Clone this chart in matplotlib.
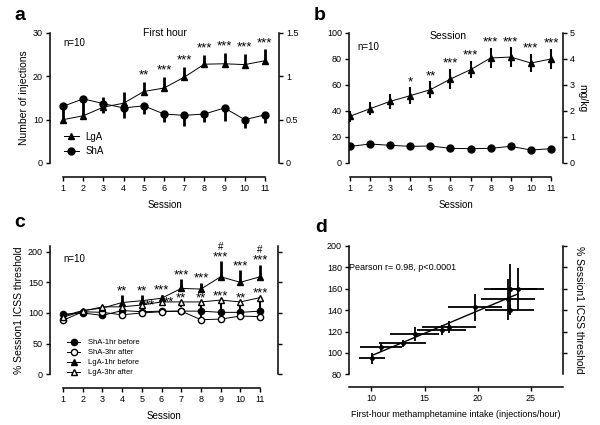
import numpy as np
import matplotlib
matplotlib.use("Agg")
import matplotlib.pyplot as plt
from matplotlib.lines import Line2D

plt.rcParams['font.family'] = ['Liberation Sans', 'DejaVu Sans']
plt.rcParams['font.size'] = 6.5
plt.rcParams['axes.linewidth'] = 1.1

sessions = np.arange(1, 12)

# panel a - first hour injections
lga_first = [10.0, 10.9, 12.9, 13.8, 16.5, 17.3, 19.8, 22.8, 22.9, 22.7, 23.6]
lga_first_err = [0.6, 0.6, 2.3, 2.7, 2.3, 2.5, 2.4, 2.2, 2.6, 2.5, 2.6]
sha_first = [13.1, 14.8, 13.7, 12.7, 13.2, 11.3, 11.0, 11.3, 12.7, 10.0, 11.1]
sha_first_err = [2.7, 3.9, 2.2, 2.3, 2.0, 1.9, 2.4, 1.8, 2.9, 1.9, 1.9]
stars_a = ['', '', '', '', '**', '***', '***', '***', '***', '***', '***']

# panel b - session injections
lga_sess = [35.9, 41.8, 47.4, 51.8, 56.4, 64.6, 71.8, 80.8, 81.5, 76.9, 80.0]
lga_sess_err = [4.0, 5.0, 5.5, 6.4, 6.4, 8.0, 6.7, 8.0, 7.5, 7.0, 8.0]
sha_sess = [12.8, 14.6, 13.6, 12.8, 13.1, 11.3, 11.0, 11.3, 12.8, 10.0, 11.0]
sha_sess_err = [1.5, 1.5, 1.2, 1.0, 1.0, 1.0, 1.0, 1.2, 2.5, 1.2, 1.0]
stars_b = ['', '', '', '*', '**', '***', '***', '***', '***', '***', '***']

# panel c - ICSS thresholds
sha_1hr = [98, 100, 96, 104, 102, 103, 103, 103, 101, 101, 103]
sha_1hr_err = [3, 3, 3, 4, 3, 3, 4, 4, 4, 4, 4]
sha_3hr = [88, 102, 101, 97, 100, 102, 103, 89, 90, 95, 94]
sha_3hr_err = [3, 3, 3, 3, 3, 3, 3, 10, 9, 4, 4]
lga_1hr = [95, 104, 108, 117, 120, 124, 140, 139, 159, 150, 159]
lga_1hr_err = [3, 3, 5, 12, 9, 6, 15, 10, 25, 20, 20]
lga_3hr = [93, 103, 110, 110, 113, 118, 118, 118, 121, 118, 125]
lga_3hr_err = [3, 3, 4, 5, 6, 6, 8, 10, 16, 12, 18]
stars_c1 = ['', '', '', '**', '**', '***', '***', '***', '***', '***', '***']
hash_c1 = ['', '', '', '', '', '', '', '', '#', '', '#']
stars_c3 = ['', '', '', '', '**', '**', '**', '**', '***', '**', '***']
stars_c3_x = [1, 2, 3, 4, 5.4, 6.35, 7, 8, 9, 10, 11]

# panel d - correlation
d_x = [10.07, 10.9, 12.95, 14.07, 16.6, 17.3, 19.74, 23.0, 23.06, 22.83, 23.74]
d_y = [95, 105.2, 109, 117.7, 121.5, 124, 142.7, 140.2, 159.8, 150.1, 159.8]
d_xerr = [1.2, 2.0, 2.2, 2.3, 2.3, 2.5, 2.5, 2.3, 2.5, 2.5, 2.5]
d_yerr = [5, 4, 3, 7, 5, 5.5, 12.6, 5, 23, 19, 20]

W, H = 600, 425
fig = plt.figure(figsize=(6, 4.25), dpi=100)


def make_axes(left, right, top, bottom):
    return fig.add_axes([left / W, 1 - bottom / H, (right - left) / W, (bottom - top) / H])


def style(ax, xlim, ylim, yticks, right_ylim, right_ticks, right_labels, xb=(1, 11), off=10):
    ax.set_xlim(*xlim)
    ax.set_ylim(*ylim)
    ax.set_yticks(yticks)
    ax.spines['top'].set_visible(False)
    ax.spines['right'].set_visible(False)
    ax.spines['bottom'].set_position(('outward', off))
    ax.spines['bottom'].set_bounds(*xb)
    ax.tick_params(direction='out', length=3, width=1, pad=2, labelsize=6.5)
    ax2 = ax.twinx()
    ax2.set_ylim(*right_ylim)
    ax2.set_yticks(right_ticks)
    for s in ['top', 'left', 'bottom']:
        ax2.spines[s].set_visible(False)
    ax2.tick_params(direction='out', length=3, width=1, pad=2, labelsize=6.5)
    if right_labels is None:
        ax2.set_yticklabels([])
    else:
        ax2.set_yticklabels(right_labels)
    return ax2


def stars(ax, xs, ys, labels, fs=9.5):
    for x, y, s in zip(xs, ys, labels):
        if s:
            ax.text(x, y, s, ha='center', va='center', fontsize=fs)


def handle(marker, filled=True, ms=4.5):
    return Line2D([], [], color='k', lw=0.7, marker=marker, ms=ms,
                  mfc='k' if filled else 'white', mec='k')


# ---------- a ----------
ax = make_axes(50, 279, 33, 163)
ax.errorbar(sessions, lga_first, yerr=[np.zeros(11), lga_first_err], fmt='-^', color='k',
            ms=4.5, lw=0.7, elinewidth=2, capsize=0)
ax.errorbar(sessions, sha_first, yerr=[sha_first_err, np.zeros(11)], fmt='-o', color='k',
            ms=5, lw=0.7, elinewidth=2, capsize=0)
style(ax, (0.35, 11.7), (0, 30), [0, 10, 20, 30], (0, 1.5), [0, 0.5, 1, 1.5],
      ['0', '0.5', '1', '1.5'])
ax.set_xticks(sessions)
tops_a = np.array(lga_first) + np.array(lga_first_err)
stars(ax, sessions, tops_a + 1.5, stars_a)
ax.set_ylabel('Number of injections', fontsize=7.5, labelpad=3)
ax.set_xlabel('Session', fontsize=7, labelpad=5)
ax.text(0.06, 0.9, 'n=10', transform=ax.transAxes, fontsize=7)
ax.text(0.5, 1.0, 'First hour', transform=ax.transAxes, ha='center', va='center', fontsize=7.5)
ax.legend([handle('^'), handle('o', ms=5)], ['LgA', 'ShA'], loc='lower left',
          bbox_to_anchor=(0.03, 0.0), frameon=False, fontsize=7,
          handlelength=1.6, handletextpad=0.6, labelspacing=0.45, borderaxespad=0.3)
fig.text(14 / W, 1 - 15 / H, 'a', fontsize=14, fontweight='bold', va='center')

# ---------- b ----------
ax = make_axes(349, 563, 33, 163)
ax.errorbar(sessions, lga_sess, yerr=lga_sess_err, fmt='-^', color='k',
            ms=4.5, lw=0.7, elinewidth=1.5, capsize=0)
ax.errorbar(sessions, sha_sess, yerr=sha_sess_err, fmt='-o', color='k',
            ms=5, lw=0.7, elinewidth=1.5, capsize=0)
ax2 = style(ax, (0.95, 11.6), (0, 100), [0, 20, 40, 60, 80, 100], (0, 5), [0, 1, 2, 3, 4, 5],
            ['0', '1', '2', '3', '4', '5'])
ax.set_xticks(sessions)
tops_b = np.array(lga_sess) + np.array(lga_sess_err)
stars(ax, sessions, tops_b + 4.0, stars_b)
ax.set_xlabel('Session', fontsize=7, labelpad=5)
ax2.set_ylabel('mg/kg', rotation=270, fontsize=7.5, labelpad=9)
ax.text(0.04, 0.87, 'n=10', transform=ax.transAxes, fontsize=7)
ax.text(5.9, 98, 'Session', ha='center', va='center', fontsize=7.5)
fig.text(314 / W, 1 - 16 / H, 'b', fontsize=14, fontweight='bold', va='center')

# ---------- c ----------
ax = make_axes(50, 278, 245.5, 374.3)
ax.errorbar(sessions, sha_1hr, yerr=sha_1hr_err, fmt='-o', color='k', ms=4.5, lw=0.7,
            elinewidth=1.5, capsize=0)
ax.errorbar(sessions, sha_3hr, yerr=[np.zeros(11), sha_3hr_err], fmt='-o', color='k',
            mfc='white', ms=4.5, lw=0.7, elinewidth=1.5, capsize=0)
ax.errorbar(sessions, lga_1hr, yerr=[np.zeros(11), lga_1hr_err], fmt='-^', color='k', ms=4.5,
            lw=0.7, elinewidth=2, capsize=0)
ax.errorbar(sessions, lga_3hr, yerr=[lga_3hr_err, np.zeros(11)], fmt='-^', color='k',
            mfc='white', ms=4.5, lw=0.7, elinewidth=1.5, capsize=0)
style(ax, (0.34, 11.91), (0, 210), [0, 50, 100, 150, 200], (0, 210),
      [0, 50, 100, 150, 200], None)
ax.set_xticks(sessions)
tops1 = np.array(lga_1hr) + np.array(lga_1hr_err)
stars(ax, sessions, tops1 + 6.5, stars_c1)
stars(ax, sessions, tops1 + 23, hash_c1, fs=7)
c3_y = [v - 1.5 if x % 1 else v + 6.5 for x, v in zip(stars_c3_x, lga_3hr)]
stars(ax, stars_c3_x, c3_y, stars_c3)
ax.set_ylabel('% Session1 ICSS threshold', fontsize=7.5, labelpad=3)
ax.set_xlabel('Session', fontsize=7, labelpad=5)
ax.text(0.06, 0.87, 'n=10', transform=ax.transAxes, fontsize=7)
ax.legend([handle('o'), handle('o', False), handle('^'), handle('^', False)],
          ['ShA-1hr before', 'ShA-3hr after', 'LgA-1hr before', 'LgA-3hr after'],
          loc='lower left', bbox_to_anchor=(0.06, -0.04), frameon=False, fontsize=5.5,
          handlelength=1.8, handletextpad=1.0, labelspacing=0.35, borderaxespad=0.0)
fig.text(14 / W, 1 - 223 / H, 'c', fontsize=14, fontweight='bold', va='center')

# ---------- d ----------
ax = make_axes(349, 563, 246, 374.3)
ax.errorbar(d_x, d_y, xerr=d_xerr, yerr=d_yerr, fmt='o', color='k', ms=2.5,
            elinewidth=1.3, capsize=0)
slope, icpt = np.polyfit(d_x, d_y, 1)
xx = np.array([min(d_x), max(d_x)])
ax.plot(xx, slope * xx + icpt, color='k', lw=1)
ax2 = style(ax, (7.9, 28.0), (80, 200), [80, 100, 120, 140, 160, 180, 200], (80, 200),
            [100, 120, 140, 160, 180, 200], None, xb=(7.9, 28.0), off=9)
ax.set_xticks([10, 15, 20, 25])
ax.set_xlabel('First-hour methamphetamine intake (injections/hour)', fontsize=6.5, labelpad=5)
ax2.set_ylabel('% Session1 ICSS threshold', rotation=270, fontsize=7.5, labelpad=10)
ax.text(0.0, 0.83, 'Pearson r= 0.98, p<0.0001', transform=ax.transAxes, fontsize=6.5,
        va='center')
fig.text(315 / W, 1 - 228 / H, 'd', fontsize=14, fontweight='bold', va='center')

fig.savefig('out.png', dpi=100)
